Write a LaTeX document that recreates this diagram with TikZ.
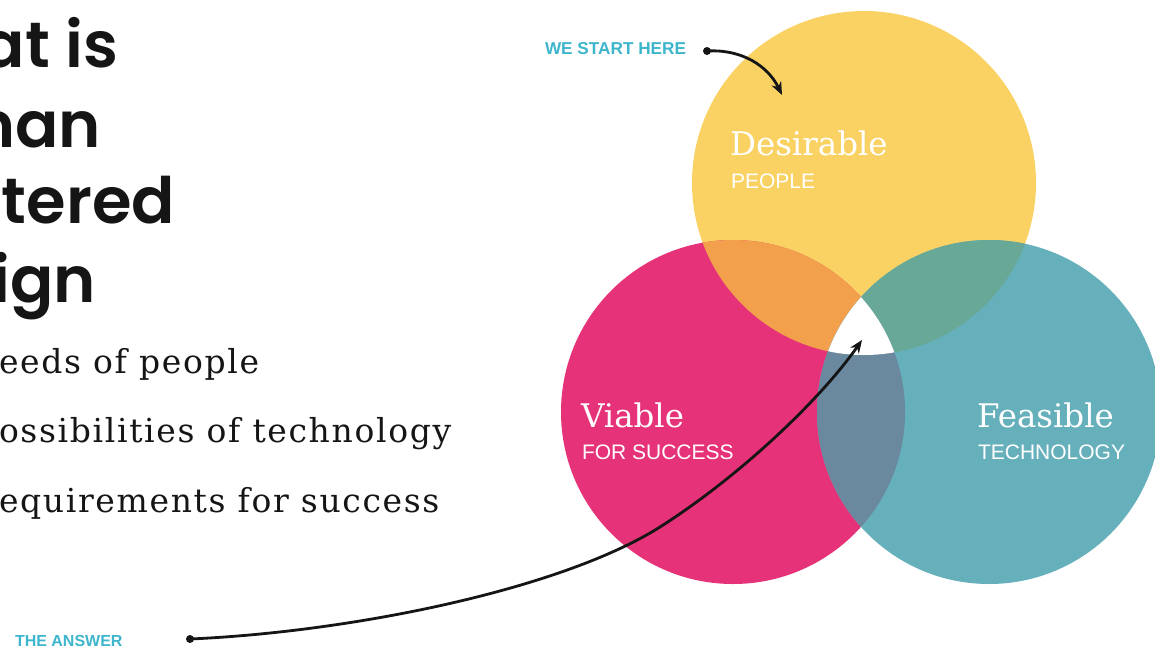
\documentclass[tikz,border=0pt]{standalone}
\usepackage{fontspec}
\setmainfont{DejaVu Serif}
\newfontfamily\bodyfont{DejaVu Serif}[LetterSpace=5]
\IfFontExistsTF{Poppins SemiBold}
  {\newfontfamily\titlefont{Poppins SemiBold}\newcommand\titleweight{}}
  {\newfontfamily\titlefont{Poppins}\newcommand\titleweight{\bfseries}}
\newfontfamily\labelfont{Liberation Sans}
\usetikzlibrary{arrows.meta}
\definecolor{cyellow}{HTML}{FAD264}
\definecolor{cpink}{HTML}{E53278}
\definecolor{cteal}{HTML}{66B0BC}
\definecolor{corange}{HTML}{F2A04B}
\definecolor{cgreen}{HTML}{68A896}
\definecolor{cslate}{HTML}{6A899E}
\definecolor{ccyan}{HTML}{3DB5CC}
\definecolor{ink}{HTML}{151515}
\begin{document}
\begin{tikzpicture}[x=1pt,y=-1pt,
  every node/.style={inner sep=0pt,outer sep=0pt},
  titletxt/.style={anchor=base east,font=\titlefont\titleweight\fontsize{64}{64}\selectfont,text=ink},
  bodytxt/.style={anchor=base west,font=\bodyfont\fontsize{33}{33}\selectfont,text=ink},
  bigtxt/.style={anchor=base west,font=\fontsize{32.5}{32.5}\selectfont,text=white},
  smalltxt/.style={anchor=base west,font=\labelfont\fontsize{21}{21}\selectfont,text=white},
  cyantxt/.style={anchor=base west,font=\labelfont\bfseries\fontsize{17.2}{17.2}\selectfont,text=ccyan},
  pointer/.style={draw=ink,line width=2.8pt,-{Stealth[length=13pt,width=10.5pt]}},
  dotmark/.style={fill=ink}
]
\useasboundingbox (0,0) rectangle (1155,648);
\clip (0,0) rectangle (1155,648);

% circle centres
\coordinate (cY) at (864,183);
\coordinate (cP) at (733,412);
\coordinate (cT) at (989,412);
\def\R{172}

\fill[cyellow] (cY) circle (\R);
\fill[cpink] (cP) circle (\R);
\fill[cteal] (cT) circle (\R);
\begin{scope}
  \clip (cY) circle (\R);
  \fill[corange] (cP) circle (\R);
\end{scope}
\begin{scope}
  \clip (cY) circle (\R);
  \fill[cgreen] (cT) circle (\R);
\end{scope}
\begin{scope}
  \clip (cP) circle (\R);
  \fill[cslate] (cT) circle (\R);
\end{scope}
\begin{scope}
  \clip (cY) circle (\R);
  \clip (cP) circle (\R);
  \fill[white] (cT) circle (\R);
\end{scope}

% title (cropped at the left edge, as in the reference)
\node[titletxt] (t1) at (118,67) {at is};
\node[titletxt] (t2) at (101,147) {man};
\node[titletxt] (t3) at (175,223) {tered};
\node[titletxt] (t4) at (96,302) {ign};

% body lines (cropped at the left edge)
\node[bodytxt] (b1) at (-1,373) {eeds of people};
\node[bodytxt] (b2) at (-1,442) {ossibilities of technology};
\node[bodytxt] (b3) at (-1,512) {equirements for success};

% circle labels
\node[bigtxt] (d1) at (730,155) {Desirable};
\node[smalltxt] (d2) at (731,188) {PEOPLE};
\node[bigtxt] (v1) at (581,427) {Viable};
\node[smalltxt] (v2) at (582,459) {FOR SUCCESS};
\node[bigtxt] (f1) at (977,427) {Feasible};
\node[smalltxt] (f2) at (978,459) {TECHNOLOGY};

% pointers
\node[cyantxt] (ws) at (545,54) {WE START HERE};
\coordinate (s1) at (707,51);
\coordinate (e1) at (782,95);
\fill[dotmark] (s1) circle (4);
\draw[pointer] (s1) .. controls (742,49) and (768,66) .. (e1);

\node[cyantxt,font=\labelfont\bfseries\fontsize{16}{16}\selectfont] (ta) at (15,646) {THE ANSWER};
\coordinate (s2) at (190,639);
\coordinate (m2) at (660,527);
\coordinate (e2) at (862,340);
\fill[dotmark] (s2) circle (4);
\draw[pointer] (s2) .. controls (350,632) and (560,590) .. (m2)
  .. controls (740,476) and (820,400) .. (e2);
\end{tikzpicture}
\end{document}
